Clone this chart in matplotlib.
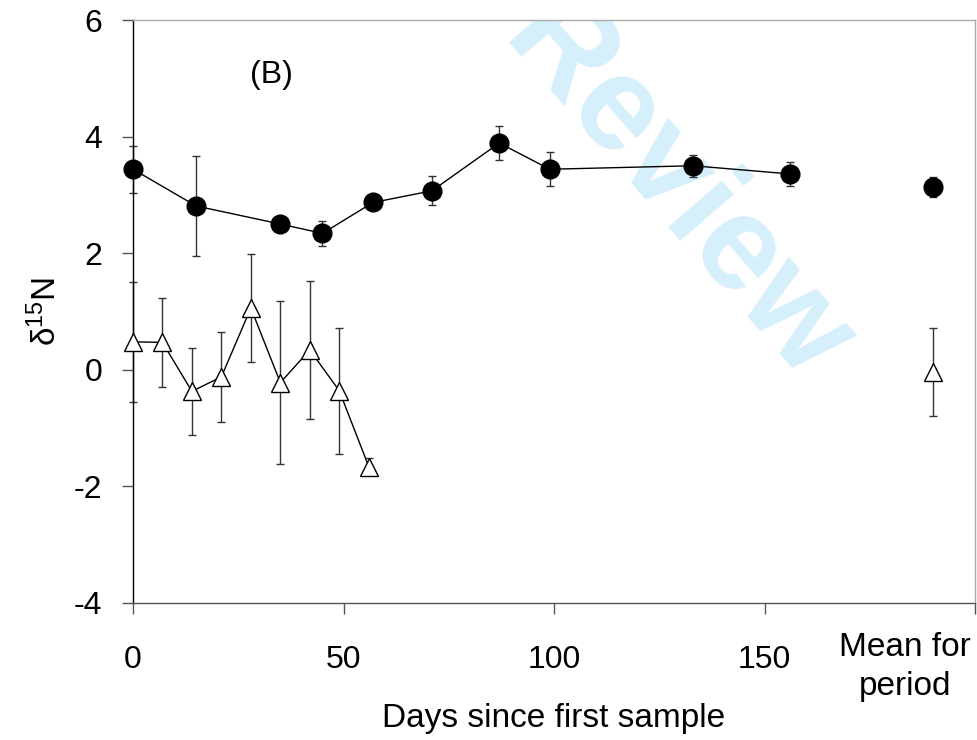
import numpy as np
import matplotlib
matplotlib.use("Agg")
import matplotlib.pyplot as plt
import matplotlib.transforms as mtransforms

plt.rcParams['font.family'] = ['Liberation Sans', 'DejaVu Sans']
plt.rcParams['mathtext.default'] = 'regular'
plt.rcParams['axes.unicode_minus'] = False

# filled circles: sampled series with error bars
circle_days = [0, 15, 35, 45, 57, 71, 87, 99, 133, 156]
circle_vals = [3.44, 2.81, 2.50, 2.34, 2.87, 3.07, 3.89, 3.44, 3.50, 3.36]
circle_err = [0.40, 0.85, 0.05, 0.22, 0.05, 0.25, 0.29, 0.29, 0.19, 0.21]

# open triangles
tri_days = [0, 7, 14, 21, 28, 35, 42, 49, 56]
tri_vals = [0.48, 0.47, -0.37, -0.12, 1.06, -0.22, 0.34, -0.36, -1.66]
tri_err = [1.03, 0.76, 0.74, 0.77, 0.93, 1.40, 1.19, 1.08, 0.15]

# mean for period (plotted at x=190)
mean_x = 190
circle_mean, circle_mean_err = 3.13, 0.17
tri_mean, tri_mean_err = -0.04, 0.76

xticks = [0, 50, 100, 150, 200]
xtick_labels = ['0', '50', '100', '150', '']
yticks = [-4, -2, 0, 2, 4, 6]

fig = plt.figure(figsize=(9.77, 7.40), dpi=100)
ax = fig.add_axes([133 / 977, 1 - 603 / 740, (975 - 133) / 977, (603 - 20) / 740])

# watermark
ax.text(0.645, 0.705, 'Review', transform=ax.transAxes, rotation=-49,
        fontsize=96, fontweight='bold', color='#d5effb',
        ha='center', va='center', zorder=0, clip_on=True)

err_kw = dict(fmt='none', ecolor='#333333', elinewidth=1.0, capsize=2.8, capthick=1.0, zorder=2)

for x, y, e in [(circle_days, circle_vals, circle_err), (tri_days, tri_vals, tri_err),
                ([mean_x], [circle_mean], [circle_mean_err]), ([mean_x], [tri_mean], [tri_mean_err])]:
    eb = ax.errorbar(x, y, yerr=e, **err_kw)
    for artist in eb.lines[1] + eb.lines[2]:
        artist.set_clip_on(False)

ax.plot(circle_days, circle_vals, color='black', lw=1.0, marker='o', ms=13.5,
        mfc='black', mec='black', zorder=3, clip_on=False)
ax.plot(tri_days, tri_vals, color='black', lw=1.0, marker='^', ms=13.5,
        mfc='white', mec='black', mew=1.0, zorder=3, clip_on=False)
ax.plot([mean_x], [circle_mean], ls='none', marker='o', ms=13.5,
        mfc='black', mec='black', zorder=3)
ax.plot([mean_x], [tri_mean], ls='none', marker='^', ms=13.5,
        mfc='white', mec='black', mew=1.0, zorder=3)

ax.set_xlim(0, 200)
ax.set_ylim(-4, 6)
ax.set_xticks(xticks)
ax.set_xticklabels(xtick_labels)
ax.set_yticks(yticks)
ax.tick_params(axis='both', direction='out', length=8, width=1.0,
               labelsize=23, color='#555555')
ax.tick_params(axis='x', pad=22)
ax.tick_params(axis='y', pad=14)

ax.spines['left'].set_color('black')
ax.spines['bottom'].set_color('#555555')
ax.spines['top'].set_color('#aaaaaa')
ax.spines['right'].set_color('#aaaaaa')
for s in ax.spines.values():
    s.set_linewidth(1.0)

ax.text(33, 5.06, '(B)', fontsize=23, ha='center', va='center')

trans = mtransforms.blended_transform_factory(ax.transData, fig.transFigure)
ax.text(183.3, 1 - 667 / 740, 'Mean for\nperiod', transform=trans, fontsize=24,
        ha='center', va='center', linespacing=1.3)

ax.set_ylabel('δ$^{15}$N', fontsize=24, labelpad=8)
fig.text((133 + 975) / 2 / 977, 1 - 718 / 740, 'Days since first sample',
         fontsize=24, ha='center', va='center')

fig.savefig('out.png', dpi=100)
